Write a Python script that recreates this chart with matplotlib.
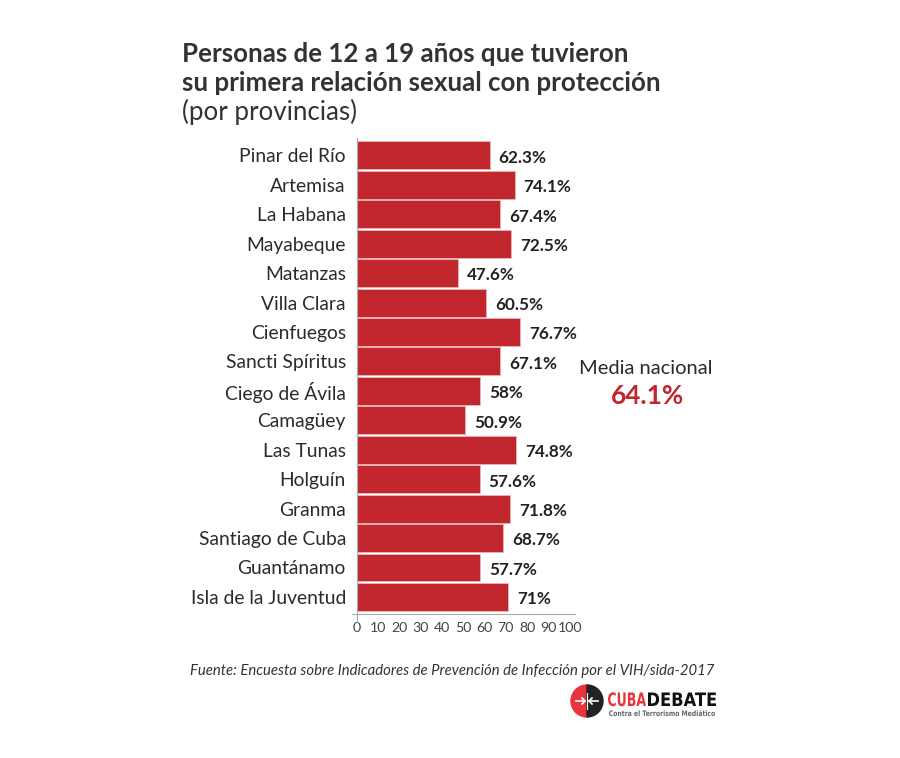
import matplotlib
matplotlib.use("Agg")
import matplotlib.pyplot as plt
from matplotlib.patches import Wedge, PathPatch
from matplotlib.textpath import TextPath
from matplotlib.font_manager import FontProperties
from matplotlib.transforms import Affine2D

provincias = ["Pinar del Río", "Artemisa", "La Habana", "Mayabeque", "Matanzas",
              "Villa Clara", "Cienfuegos", "Sancti Spíritus", "Ciego de Ávila",
              "Camagüey", "Las Tunas", "Holguín", "Granma", "Santiago de Cuba",
              "Guantánamo", "Isla de la Juventud"]
valores = [62.3, 74.1, 67.4, 72.5, 47.6, 60.5, 76.7, 67.1, 58, 50.9, 74.8,
           57.6, 71.8, 68.7, 57.7, 71]
etiquetas = ["62.3%", "74.1%", "67.4%", "72.5%", "47.6%", "60.5%", "76.7%",
             "67.1%", "58%", "50.9%", "74.8%", "57.6%", "71.8%", "68.7%",
             "57.7%", "71%"]
xticks = [0, 10, 20, 30, 40, 50, 60, 70, 80, 90, 100]
media = "64.1%"

FONT = ["Lato", "DejaVu Sans"]
plt.rcParams["font.family"] = FONT
RED = "#c1272d"
DARK = "#2b2b2b"

fig = plt.figure(figsize=(9, 7.58), dpi=100)
fig.patch.set_facecolor("white")
W, H = 900, 758

def fx(px):
    return px / W

def fy(py):
    return 1 - py / H

XMAX = 102.5
ax = fig.add_axes([fx(357), fy(614), fx(575) - fx(357), fy(138) - fy(614)])
y = list(range(len(provincias)))
ax.barh(y, valores, height=0.95, color=RED, edgecolor="#e8b5b7", linewidth=0.6)
ax.set_ylim(15.58, -0.59)
ax.set_xlim(0, XMAX)
for yi, v, t in zip(y, valores, etiquetas):
    ax.text(v + 4.3, yi + 0.08, t, va="center", ha="left", fontsize=12.3,
            fontweight="bold", color="#222222")
ax.set_yticks(y)
ax.set_yticklabels(provincias, fontsize=13.9, color=DARK)
ax.tick_params(axis="y", length=0, pad=8)
ax.set_xticks(xticks)
ax.set_xticklabels([str(t) for t in xticks], fontsize=10.2, color="#444444")
ax.tick_params(axis="x", length=0, pad=6)
for s in ["top", "right"]:
    ax.spines[s].set_visible(False)
ax.spines["left"].set_color("#aaaaaa")
ax.spines["bottom"].set_color("#aaaaaa")
ax.spines["left"].set_linewidth(0.8)
ax.spines["bottom"].set_linewidth(0.8)
ax.spines["left"].set_bounds(15.85, -0.59)
ax.spines["bottom"].set_bounds(-2.2, XMAX)

# Title
fig.text(fx(182), fy(62), "Personas de 12 a 19 años que tuvieron", fontsize=18.65,
         fontweight="bold", color="#333333", ha="left", va="baseline")
fig.text(fx(182), fy(91), "su primera relación sexual con protección", fontsize=18.65,
         fontweight="bold", color="#333333", ha="left", va="baseline")
fig.text(fx(182), fy(120), "(por provincias)", fontsize=18.65,
         color="#333333", ha="left", va="baseline")

# Media nacional
fig.text(fx(646), fy(369), "Media nacional", fontsize=14.5, color=DARK,
         ha="center", va="center")
fig.text(fx(647), fy(396), media, fontsize=18.8, fontweight="bold", color=RED,
         ha="center", va="center")

# Source
fig.text(fx(452), fy(671), "Fuente: Encuesta sobre Indicadores de Prevención de Infección por el VIH/sida-2017",
         fontsize=10.7, style="italic", color="#333333", ha="center", va="center")

# Logo
lax = fig.add_axes([0, 0, 1, 1], facecolor="none")
lax.set_xlim(0, W)
lax.set_ylim(H, 0)
lax.axis("off")
cx, cy, r = 587, 701, 16
lax.add_patch(Wedge((cx, cy), r, 90, 270, color="#e8343a"))
lax.add_patch(Wedge((cx, cy), r, -90, 90, color="#222222"))
lax.plot([cx - 11, cx - 2], [cy, cy], color="white", lw=1.2)
lax.plot([cx + 2, cx + 11], [cy, cy], color="white", lw=1.2)
lax.plot([cx - 5, cx - 2, cx - 5], [cy - 3, cy, cy + 3], color="white", lw=1.2)
lax.plot([cx + 5, cx + 2, cx + 5], [cy - 3, cy, cy + 3], color="white", lw=1.2)
lax.plot([cx, cx], [cy - 8, cy + 8], color="white", lw=0.8)

fp = FontProperties(family="DejaVu Sans", weight="bold")

def squeezed(text, x0, x1, base, cap, color):
    tp = TextPath((0, 0), text, size=1, prop=fp)
    ext = tp.get_extents()
    capref = TextPath((0, 0), "H", size=1, prop=fp).get_extents().height
    sx = (x1 - x0) / ext.width
    sy = cap / capref
    tr = Affine2D().translate(-ext.x0, 0).scale(sx, -sy).translate(x0, base)
    path = tr.transform_path(tp)
    lax.add_patch(PathPatch(path, facecolor=color, edgecolor="none"))

squeezed("CUBA", 608, 646, 706, 13.5, "#e8343a")
squeezed("DEBATE", 648, 716, 706, 13.5, "#111111")
squeezed("Contra el Terrorismo Mediático", 609, 715, 716, 5.5, "#666666")

fig.savefig("out.png", dpi=100, facecolor="white")
